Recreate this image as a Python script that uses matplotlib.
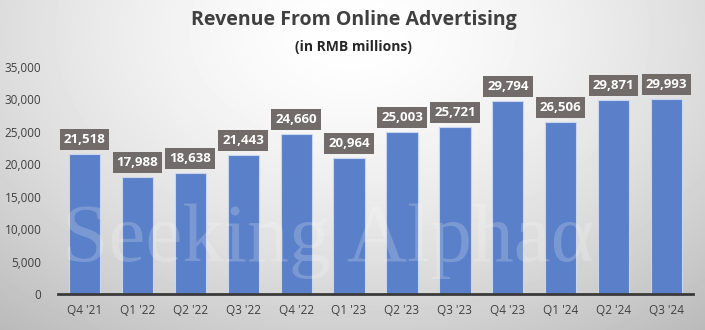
import numpy as np
import matplotlib.pyplot as plt

quarters = ["Q4 '21", "Q1 '22", "Q2 '22", "Q3 '22", "Q4 '22", "Q1 '23",
            "Q2 '23", "Q3 '23", "Q4 '23", "Q1 '24", "Q2 '24", "Q3 '24"]
revenue = [21518, 17988, 18638, 21443, 24660, 20964,
           25003, 25721, 29794, 26506, 29871, 29993]

plt.rcParams['font.family'] = ['Open Sans', 'DejaVu Sans']

fig = plt.figure(figsize=(7.05, 3.3), dpi=100)

# radial gradient background
bg = fig.add_axes([0, 0, 1, 1], zorder=0)
yy, xx = np.mgrid[0:1:330j, 0:1:705j]
r = np.sqrt(((xx - 0.5) / 0.75) ** 2 + ((yy - 0.1) / 1.1) ** 2)
shade = 1.0 - 0.25 * np.clip(r, 0, 1.2) ** 1.5
bg.imshow(shade, cmap='gray', vmin=0, vmax=1, aspect='auto',
          extent=[0, 1, 1, 0])
bg.axis('off')

ax = fig.add_axes([0.0823, 0.109, 0.9007, 0.688], zorder=1)
ax.patch.set_alpha(0)
x = np.arange(len(quarters))
ax.bar(x, revenue, width=0.59, color='#5a80c9', edgecolor='#c9d6ee',
       linewidth=0.8, zorder=2)

for xi, v in zip(x, revenue):
    ax.text(xi, v + 1250, f"{v:,}", ha='center', va='bottom', color='white',
            fontsize=9.5, fontweight='bold', zorder=4,
            bbox=dict(boxstyle='square,pad=0.3', fc='#716c69', ec='none'))

ax.set_xlim(-0.5, len(quarters) - 0.5)
ax.set_ylim(0, 35000)
ax.set_yticks(range(0, 35001, 5000))
ax.set_yticklabels([f"{t:,}" for t in range(0, 35001, 5000)])
ax.set_xticks(x)
ax.set_xticklabels(quarters)
ax.tick_params(axis='both', length=0, labelsize=8.5, colors='#404040')
ax.tick_params(axis='x', pad=7)
ax.tick_params(axis='y', pad=12)
for s in ['top', 'right', 'left']:
    ax.spines[s].set_visible(False)
ax.spines['bottom'].set_color('#3a3a3a')
ax.spines['bottom'].set_linewidth(2)
ax.spines['bottom'].set_zorder(5)

fig.text(0.502, 0.94, "Revenue From Online Advertising", ha='center',
         va='center', fontsize=14, fontweight='bold', color='#404040')
fig.text(0.502, 0.858, "(in RMB millions)", ha='center', va='center',
         fontsize=10, fontweight='bold', color='#262626')

fig.text(0.088, 0.27, "Seeking Alpha\u03b1", ha='left', va='center',
         fontsize=60, family='Liberation Serif', color='white', alpha=0.2,
         zorder=3)

fig.savefig('out.png', dpi=100)
